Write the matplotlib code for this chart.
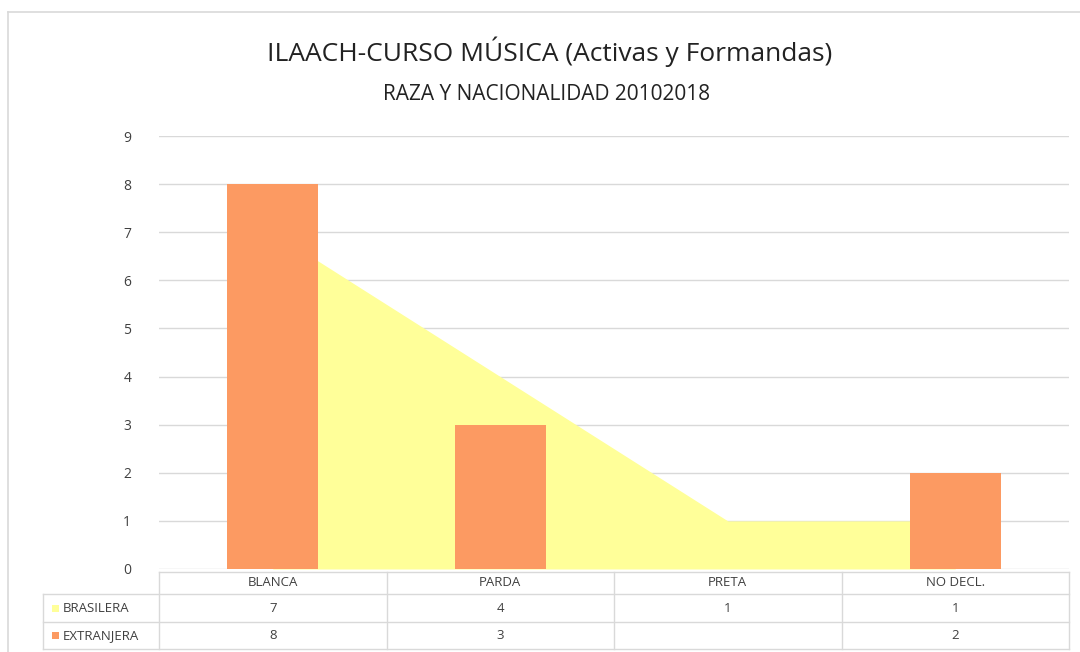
import numpy as np
import matplotlib.pyplot as plt
import matplotlib.transforms as mtransforms
from matplotlib.lines import Line2D
from matplotlib.patches import Rectangle

# datos
categorias = ['BLANCA', 'PARDA', 'PRETA', 'NO DECL.']
series = ['BRASILERA', 'EXTRANJERA']
brasilera = [7, 4, 1, 1]
extranjera = [8, 3, None, 2]

titulo = 'ILAACH-CURSO MÚSICA (Activas y Formandas)'
subtitulo = 'RAZA Y NACIONALIDAD 20102018'

col_area = '#FFFF99'
col_bar = '#FC9A62'
col_grid = '#D9D9D9'
col_txt = '#404040'

plt.rcParams['font.family'] = ['Open Sans', 'DejaVu Sans']

W, H = 1080, 652
fig = plt.figure(figsize=(W / 100, H / 100), dpi=100)


def fx(p):
    return p / W


def fy(p):
    return 1 - p / H


ax = fig.add_axes([fx(159), fy(569), fx(1069) - fx(159), fy(136) - fy(569)])
x = np.arange(len(categorias))

ax.fill_between(x, brasilera, color=col_area, lw=0, zorder=2)
ext_vals = [v if v is not None else 0 for v in extranjera]
ax.bar(x, ext_vals, width=0.4, color=col_bar, zorder=3)

ax.set_xlim(-0.5, len(categorias) - 0.5)
ax.set_ylim(0, 9)
ax.set_yticks(range(10))
ax.yaxis.grid(True, color=col_grid, lw=1)
ax.set_axisbelow(True)
ax.tick_params(axis='y', length=0, pad=20, labelsize=10, labelcolor=col_txt)
ax.set_xticks([])
for s in ax.spines.values():
    s.set_visible(False)

# titulos
fig.text(fx(550), fy(52), titulo, ha='center', va='center', fontsize=19, color='#222222')
fig.text(fx(547), fy(95), subtitulo, ha='center', va='center', fontsize=15, color='#222222')

# tabla de datos bajo el grafico
tr = mtransforms.blended_transform_factory(ax.transData, fig.transFigure)
y_head, y_r1, y_r2, y_bot = 572, 594, 622, 649
x_lab = fx(43)
bordes = np.arange(len(categorias) + 1) - 0.5
fs_tab = 9.5

fig.add_artist(Line2D([bordes[0], bordes[-1]], [fy(y_head), fy(y_head)], transform=tr,
                      color=col_grid, lw=1))
for yy in (y_r1, y_r2, y_bot):
    fig.add_artist(Line2D([x_lab, fx(1069)], [fy(yy), fy(yy)], transform=fig.transFigure,
                          color=col_grid, lw=1))
fig.add_artist(Line2D([x_lab, x_lab], [fy(y_r1), fy(y_bot)], transform=fig.transFigure,
                      color=col_grid, lw=1))
for b in bordes:
    fig.add_artist(Line2D([b, b], [fy(y_head), fy(y_bot)], transform=tr, color=col_grid, lw=1))

for i, c in enumerate(categorias):
    fig.text(i, fy((y_head + y_r1) / 2), c, transform=tr, ha='center', va='center',
             fontsize=fs_tab, color=col_txt)
    for v, (ya, yb) in zip((brasilera[i], extranjera[i]), ((y_r1, y_r2), (y_r2, y_bot))):
        if v is not None:
            fig.text(i, fy((ya + yb) / 2), str(v), transform=tr, ha='center', va='center',
                     fontsize=fs_tab, color=col_txt)

for nombre, col, (ya, yb) in zip(series, (col_area, col_bar), ((y_r1, y_r2), (y_r2, y_bot))):
    yc = (ya + yb) / 2
    fig.add_artist(Rectangle((fx(52), fy(yc + 3.5)), 7 / W, 7 / H, transform=fig.transFigure,
                             color=col, lw=0))
    fig.text(fx(63), fy(yc), nombre, ha='left', va='center', fontsize=fs_tab, color=col_txt)

# marco exterior
fig.add_artist(Line2D([fx(8), 1], [fy(12), fy(12)], transform=fig.transFigure, color=col_grid, lw=1.2))
fig.add_artist(Line2D([fx(8), fx(8)], [fy(12), 0], transform=fig.transFigure, color=col_grid, lw=1.2))

fig.savefig('out.png', dpi=100)
